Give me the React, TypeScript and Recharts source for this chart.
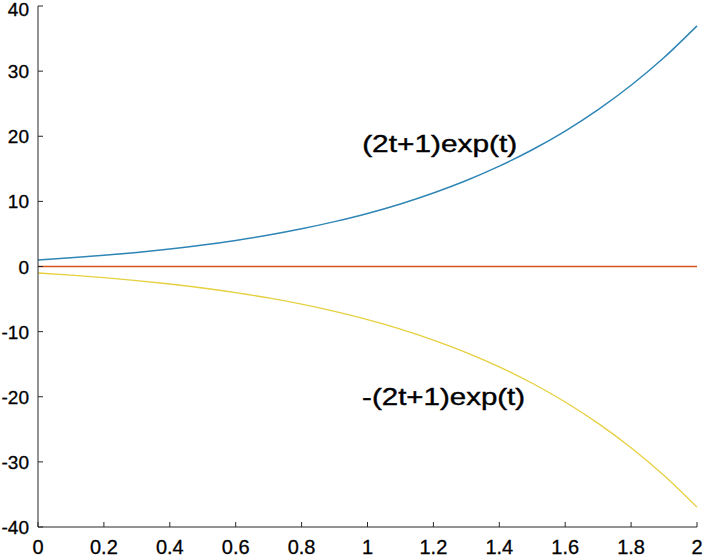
import { LineChart, Line, XAxis, YAxis, ReferenceDot } from "recharts"

const T_VALUES = [0, 0.1, 0.2, 0.3, 0.4, 0.5, 0.6, 0.7, 0.8, 0.9, 1, 1.1, 1.2, 1.3, 1.4, 1.5, 1.6, 1.7, 1.8, 1.9, 2]
const UPPER = [1, 1.33, 1.71, 2.16, 2.69, 3.3, 4.01, 4.83, 5.79, 6.89, 8.15, 9.61, 11.29, 13.21, 15.41, 17.93, 20.8, 24.09, 27.83, 32.09, 36.95]
const LOWER = [-1, -1.33, -1.71, -2.16, -2.69, -3.3, -4.01, -4.83, -5.79, -6.89, -8.15, -9.61, -11.29, -13.21, -15.41, -17.93, -20.8, -24.09, -27.83, -32.09, -36.95]
const ZERO = [0, 0, 0, 0, 0, 0, 0, 0, 0, 0, 0, 0, 0, 0, 0, 0, 0, 0, 0, 0, 0]

const X_TICKS = [0, 0.2, 0.4, 0.6, 0.8, 1, 1.2, 1.4, 1.6, 1.8, 2]
const X_LABELS = ["0", "0.2", "0.4", "0.6", "0.8", "1", "1.2", "1.4", "1.6", "1.8", "2"]
const Y_TICKS = [-40, -30, -20, -10, 0, 10, 20, 30, 40]

const FONT = '"Liberation Sans", Arial, Helvetica, sans-serif'
const AXIS = "#262626"

const data = T_VALUES.map((t, i) => ({ t, upper: UPPER[i], lower: LOWER[i], zero: ZERO[i] }))

function BottomTick({ x, y, payload }: any) {
  const i = X_TICKS.indexOf(payload.value)
  return (
    <g>
      <line x1={x} y1={y} x2={x} y2={y - 5} stroke={AXIS} />
      <text x={x} y={y + 27} textAnchor="middle" fontSize={20} fontFamily={FONT} fill="#000" stroke="#000" strokeWidth={0.3}>
        {i >= 0 ? X_LABELS[i] : payload.value}
      </text>
    </g>
  )
}

function TopTick({ x, y }: any) {
  return <line x1={x} y1={y} x2={x} y2={y + 5} stroke={AXIS} />
}

function LeftTick({ x, y, payload }: any) {
  // keep the top label inside the picture, as the reference does
  const base = Math.max(y + 7, 16)
  return (
    <g>
      <line x1={x} y1={y} x2={x + 5} y2={y} stroke={AXIS} />
      <text x={x - 9} y={base} textAnchor="end" fontSize={19} fontFamily={FONT} fill="#000" stroke="#000" strokeWidth={0.3}>
        {payload.value}
      </text>
    </g>
  )
}

function RightTick({ x, y }: any) {
  return <line x1={x} y1={y} x2={x - 5} y2={y} stroke={AXIS} />
}

function curveLabel(text: string, len: number) {
  return ({ viewBox }: any) => (
    <text
      x={viewBox.x + viewBox.width / 2}
      y={viewBox.y + viewBox.height / 2}
      dy="0.36em"
      textAnchor="middle"
      fontSize={24}
      fontFamily={FONT}
      fill="#000"
      stroke="#000"
      strokeWidth={0.4}
      textLength={len}
      lengthAdjust="spacingAndGlyphs"
    >
      {text}
    </text>
  )
}

export default function App() {
  return (
    <div style={{ position: "absolute", left: 0, top: 0, background: "#fff" }}>
      <LineChart width={704} height={559} data={data} margin={{ top: 6, right: 7, bottom: 0, left: 0 }}>
        <XAxis
          dataKey="t"
          type="number"
          domain={[0, 2]}
          ticks={X_TICKS}
          height={32}
          tickSize={0}
          tickMargin={0}
          tickLine={false}
          tick={<BottomTick />}
          stroke={AXIS}
          interval={0}
        />
        <XAxis
          xAxisId="top"
          orientation="top"
          dataKey="t"
          type="number"
          domain={[0, 2]}
          ticks={X_TICKS}
          height={0}
          tickSize={0}
          tickMargin={0}
          tickLine={false}
          tick={<TopTick />}
          stroke={AXIS}
          interval={0}
        />
        <YAxis
          type="number"
          domain={[-40, 40]}
          ticks={Y_TICKS}
          width={38}
          tickSize={0}
          tickMargin={0}
          tickLine={false}
          tick={<LeftTick />}
          stroke={AXIS}
          interval={0}
        />
        <YAxis
          yAxisId="right"
          orientation="right"
          type="number"
          domain={[-40, 40]}
          ticks={Y_TICKS}
          width={0}
          tickSize={0}
          tickMargin={0}
          tickLine={false}
          tick={<RightTick />}
          stroke={AXIS}
          interval={0}
        />
        <Line dataKey="zero" stroke="#D95319" strokeWidth={1.5} dot={false} isAnimationActive={false} />
        <Line type="monotone" dataKey="upper" stroke="#2F86B6" strokeWidth={1.5} dot={false} isAnimationActive={false} />
        <Line type="monotone" dataKey="lower" stroke="#E6D040" strokeWidth={1.3} dot={false} isAnimationActive={false} />
        <ReferenceDot x={1.219} y={18.96} r={0} fill="none" stroke="none" ifOverflow="visible" label={curveLabel("(2t+1)exp(t)", 155)} />
        <ReferenceDot x={1.231} y={-19.96} r={0} fill="none" stroke="none" ifOverflow="visible" label={curveLabel("-(2t+1)exp(t)", 163)} />
      </LineChart>
    </div>
  )
}
